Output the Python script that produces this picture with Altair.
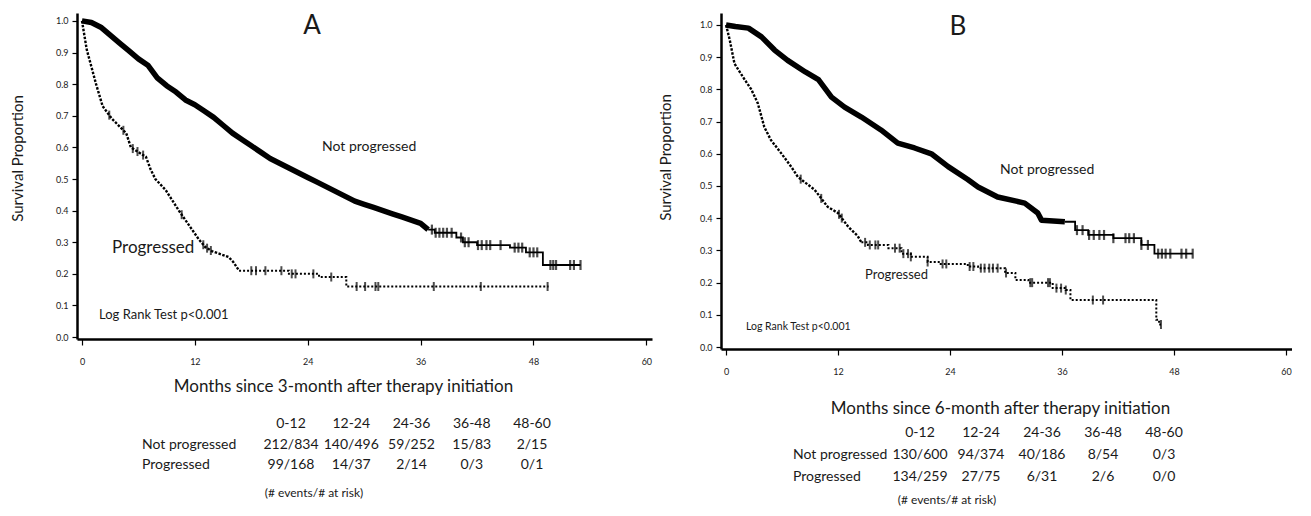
import altair as alt
import pandas as pd
import numpy as np

FONT = "Lato"

# ---------------- Panel A data (months, survival proportion) ----------------
a_np_t = [0, 1, 2, 3, 4, 5, 6, 7, 8, 9, 10, 11, 12, 13, 14, 15, 16, 17, 18, 19, 20,
          21, 22, 23, 24, 25, 26, 27, 28, 29, 30, 31, 32, 33, 34, 35, 36, 36.8, 37.5,
          39.8, 40.5, 42.0, 45.5, 47.2, 49.0, 53.0]
a_np_s = [1.0, 0.995, 0.98, 0.955, 0.93, 0.905, 0.88, 0.86, 0.82, 0.795, 0.775, 0.75,
          0.735, 0.715, 0.695, 0.67, 0.645, 0.625, 0.605, 0.585, 0.565, 0.55, 0.535,
          0.52, 0.505, 0.49, 0.475, 0.46, 0.445, 0.43, 0.42, 0.41, 0.40, 0.39, 0.38,
          0.37, 0.36, 0.34, 0.33, 0.315, 0.30, 0.291, 0.283, 0.268, 0.228, 0.228]
a_np_cens = [37.2, 37.6, 38.0, 38.4, 38.8, 39.3, 40.3, 40.7, 41.1, 42.1, 42.5, 43.0,
             43.4, 44.5, 46.0, 46.4, 46.8, 47.6, 48.0, 48.4, 49.8, 50.1, 50.4, 51.9,
             52.3, 53.0]

a_pr_t = [0, 0.5, 1.5, 2.2, 3.2, 4.7, 5.2, 6.8, 7.3, 7.8, 8.9, 10.3, 11.0, 12.4, 13.1,
          13.8, 15.6, 16.1, 16.7, 22.0, 25.2, 28.1, 49.6]
a_pr_s = [1.0, 0.91, 0.80, 0.73, 0.69, 0.645, 0.60, 0.57, 0.53, 0.50, 0.465, 0.40, 0.37,
          0.31, 0.285, 0.272, 0.253, 0.237, 0.21, 0.20, 0.19, 0.16, 0.16]
a_pr_cens = [2.9, 4.4, 5.4, 5.9, 6.5, 10.6, 12.9, 13.3, 13.7, 18.0, 18.5, 19.5, 21.2,
             22.3, 22.7, 24.6, 26.5, 29.2, 30.1, 31.2, 31.5, 37.4, 42.4, 49.5]

# ---------------- Panel B data ----------------
b_np_t = [0, 1, 2.4, 3.8, 5.2, 6.6, 8.5, 9.9, 11.3, 12.7, 14.5, 16.6, 18.4, 20.2, 22.0,
          23.8, 25.9, 27.0, 29.1, 32.0, 33.4, 33.8, 36.3, 37.4, 38.8, 41.5, 44.5, 45.9,
          50.0]
b_np_s = [1.0, 0.995, 0.99, 0.963, 0.922, 0.89, 0.854, 0.83, 0.776, 0.745, 0.714, 0.674,
          0.633, 0.618, 0.60, 0.56, 0.52, 0.497, 0.466, 0.447, 0.416, 0.394, 0.389, 0.363,
          0.348, 0.338, 0.317, 0.29, 0.29]
b_np_cens = [37.6, 38.2, 38.9, 39.4, 40.0, 40.5, 41.5, 42.8, 43.2, 43.7, 44.5, 45.2,
             46.3, 46.7, 47.1, 47.6, 48.8, 49.3, 50.0]

b_pr_t = [0, 0.4, 0.9, 2.0, 2.7, 3.4, 4.1, 4.8, 5.9, 7.0, 7.7, 9.5, 10.9, 12.0, 13.1,
          14.1, 14.5, 15.2, 17.4, 18.8, 19.8, 21.6, 23.0, 25.9, 27.0, 29.9, 31.0, 32.4,
          35.0, 36.4, 36.9, 46.1, 46.4, 46.6]
b_pr_s = [1.0, 0.953, 0.88, 0.83, 0.80, 0.757, 0.683, 0.643, 0.602, 0.559, 0.528, 0.488,
          0.435, 0.416, 0.373, 0.345, 0.325, 0.317, 0.307, 0.29, 0.28, 0.264, 0.258, 0.25,
          0.245, 0.23, 0.208, 0.20, 0.183, 0.177, 0.146, 0.085, 0.07, 0.07]
b_pr_cens = [8.0, 10.2, 12.1, 12.4, 14.9, 15.4, 16.0, 16.3, 18.1, 18.6, 19.0, 19.5, 19.8,
             21.6, 23.2, 23.6, 26.1, 26.5, 27.3, 27.7, 28.2, 28.6, 29.1, 30.0, 32.6, 32.8,
             34.5, 34.7, 35.4, 35.9, 36.4, 39.3, 40.4, 46.6]

# ---------------- Tables ----------------
periods = ["0-12", "12-24", "24-36", "36-48", "48-60"]
row_labels = ["Not progressed", "Progressed"]
a_np_counts = ["212/834", "140/496", "59/252", "15/83", "2/15"]
a_pr_counts = ["99/168", "14/37", "2/14", "0/3", "0/1"]
b_np_counts = ["130/600", "94/374", "40/186", "8/54", "0/3"]
b_pr_counts = ["134/259", "27/75", "6/31", "2/6", "0/0"]

y_ticks = [0.0, 0.1, 0.2, 0.3, 0.4, 0.5, 0.6, 0.7, 0.8, 0.9, 1.0]
x_ticks = [0, 12, 24, 36, 48, 60]


def split_curve(t, s, dense_end):
    """Dense early part (many tiny KM steps, drawn continuous) and sparse step tail."""
    df = pd.DataFrame({"t": t, "s": s})
    return df[df["t"] <= dense_end], df[df["t"] >= dense_end]


def cens_df(times, t, s, dense_end):
    t = np.asarray(t, dtype=float)
    s = np.asarray(s, dtype=float)
    c = np.asarray(times, dtype=float)
    idx = np.clip(np.searchsorted(t, c, side="right") - 1, 0, len(s) - 1)
    step_vals = s[idx]
    lin_vals = np.interp(c, t, s)
    vals = np.where(c <= dense_end, lin_vals, step_vals)
    return pd.DataFrame({"t": c, "s": vals})


def text_layer(txt, x, y, size, align="left"):
    return alt.Chart(pd.DataFrame({"label": [txt]})).mark_text(
        font=FONT, fontSize=size, align=align, baseline="middle", color="#1a1a1a"
    ).encode(text="label:N", x=alt.value(x), y=alt.value(y))


def panel(cfg):
    W, H = cfg["W"], cfg["H"]
    xs = alt.Scale(domain=cfg["xdom"], nice=False, zero=False)
    ys = alt.Scale(domain=cfg["ydom"], nice=False, zero=False)
    x_enc = alt.X("t:Q", scale=xs, axis=alt.Axis(
        values=x_ticks, title=cfg["xtitle"], titleX=cfg["xtitleX"], titleY=cfg["xtitleY"],
        titleFontSize=17, titleAlign="center", titleBaseline="middle",
        labelPadding=12, tickSize=6))
    y_enc = alt.Y("s:Q", scale=ys, axis=alt.Axis(
        values=y_ticks, format=".1f", title="Survival Proportion",
        titleX=cfg["ytitleX"], titleY=cfg["ytitleY"], titleFontSize=15,
        titleAlign="center", titleBaseline="middle", titleAngle=270,
        labelPadding=4, tickSize=5))

    np_dense, np_tail = split_curve(cfg["np_t"], cfg["np_s"], cfg["np_dense"])
    pr_dense, pr_tail = split_curve(cfg["pr_t"], cfg["pr_s"], cfg["pr_dense"])

    np_thick = alt.Chart(np_dense).mark_line(
        interpolate="linear", color="black", strokeWidth=5.5, strokeJoin="round").encode(
        x=x_enc, y=y_enc)
    np_thin = alt.Chart(np_tail).mark_line(
        interpolate="step-after", color="black", strokeWidth=1.8).encode(x=x_enc, y=y_enc)
    pr_dense_line = alt.Chart(pr_dense).mark_line(
        interpolate="linear", color="black", strokeWidth=2.4,
        strokeDash=[2.5, 1.5]).encode(x=x_enc, y=y_enc)
    pr_tail_line = alt.Chart(pr_tail).mark_line(
        interpolate="step-after", color="black", strokeWidth=2,
        strokeDash=[2, 2]).encode(x=x_enc, y=y_enc)
    np_ticks = alt.Chart(cens_df(cfg["np_c"], cfg["np_t"], cfg["np_s"], cfg["np_dense"])
                         ).mark_tick(orient="vertical", size=10, thickness=2.2,
                                     color="black").encode(x=x_enc, y=y_enc)
    pr_ticks = alt.Chart(cens_df(cfg["pr_c"], cfg["pr_t"], cfg["pr_s"], cfg["pr_dense"])
                         ).mark_tick(orient="vertical", size=9, thickness=2,
                                     color="black").encode(x=x_enc, y=y_enc)

    ann = [text_layer(cfg["letter"], cfg["letter_x"], cfg["letter_y"], 26, "center")]
    for (txt, x, y, sz) in cfg["ann"]:
        ann.append(text_layer(txt, x, y, sz))

    data_layer = alt.layer(np_thick, np_thin, pr_dense_line, pr_tail_line,
                           np_ticks, pr_ticks, *ann)

    # table of events / at risk
    cells = []
    for i, p in enumerate(periods):
        cells.append({"row": "hdr", "col": p, "text": p})
        cells.append({"row": "np", "col": p, "text": cfg["np_counts"][i]})
        cells.append({"row": "pr", "col": p, "text": cfg["pr_counts"][i]})
    cells = pd.DataFrame(cells)
    col_scale = alt.Scale(type="point", domain=periods, range=cfg["col_range"], padding=0)
    row_scale = alt.Scale(type="point", domain=["hdr", "np", "pr"],
                          range=cfg["row_range"], padding=0)
    cell_layer = alt.Chart(cells).mark_text(
        font=FONT, fontSize=14, align="center", baseline="middle", color="#1a1a1a"
    ).encode(x=alt.X("col:O", scale=col_scale, axis=None),
             y=alt.Y("row:O", scale=row_scale, axis=None), text="text:N")
    lab_df = pd.DataFrame({"row": ["np", "pr"], "text": row_labels})
    lab_layer = alt.Chart(lab_df).mark_text(
        font=FONT, fontSize=14, align="left", baseline="middle", color="#1a1a1a"
    ).encode(x=alt.value(cfg["label_x"]),
             y=alt.Y("row:O", scale=row_scale, axis=None), text="text:N")
    note = text_layer("(# events/# at risk)", cfg["note_x"], cfg["note_y"], 12, "center")
    table_layer = alt.layer(cell_layer, lab_layer, note)

    return alt.layer(data_layer, table_layer).resolve_scale(
        x="independent", y="independent").properties(width=W, height=H)


cfgA = dict(
    W=575, H=326, xdom=[-0.53, 60.6], ydom=[-0.006, 1.025],
    xtitle="Months since 3-month after therapy initiation", xtitleX=266, xtitleY=47,
    ytitleX=-60, ytitleY=145,
    np_t=a_np_t, np_s=a_np_s, np_c=a_np_cens, pr_t=a_pr_t, pr_s=a_pr_s, pr_c=a_pr_cens,
    np_dense=36.8, pr_dense=16.7,
    letter="A", letter_x=235, letter_y=13,
    ann=[("Not progressed", 245, 134, 14), ("Progressed", 35, 235, 17),
         ("Log Rank Test p<0.001", 22, 302, 13)],
    np_counts=a_np_counts, pr_counts=a_pr_counts,
    col_range=[214, 455], row_range=[411, 452], label_x=65, note_x=237, note_y=480,
)
cfgB = dict(
    W=571, H=336, xdom=[-0.54, 60.64], ydom=[-0.006, 1.037],
    xtitle="Months since 6-month after therapy initiation", xtitleX=279, xtitleY=59,
    ytitleX=-56, ytitleY=144,
    np_t=b_np_t, np_s=b_np_s, np_c=b_np_cens, pr_t=b_pr_t, pr_s=b_pr_s, pr_c=b_pr_cens,
    np_dense=36.3, pr_dense=14.5,
    letter="B", letter_x=237, letter_y=14,
    ann=[("Not progressed", 279, 157, 14), ("Progressed", 144, 262, 13),
         ("Log Rank Test p<0.001", 25, 314, 10.5)],
    np_counts=b_np_counts, pr_counts=b_pr_counts,
    col_range=[199, 443], row_range=[420, 464], label_x=72, note_x=226, note_y=487,
)

chart = alt.hconcat(panel(cfgA), panel(cfgB), spacing=6).properties(
    padding={"left": 2, "top": 5, "right": 0, "bottom": 0}
).configure_view(stroke=None).configure_axis(
    grid=False, domainColor="black", domainWidth=2.5, tickColor="black", tickWidth=1.2,
    labelFont=FONT, labelFontSize=9, labelColor="#1a1a1a",
    titleFont=FONT, titleFontWeight="normal", titleColor="#1a1a1a"
)

chart.save("out.html", embed_options={"renderer": "svg", "actions": False})
